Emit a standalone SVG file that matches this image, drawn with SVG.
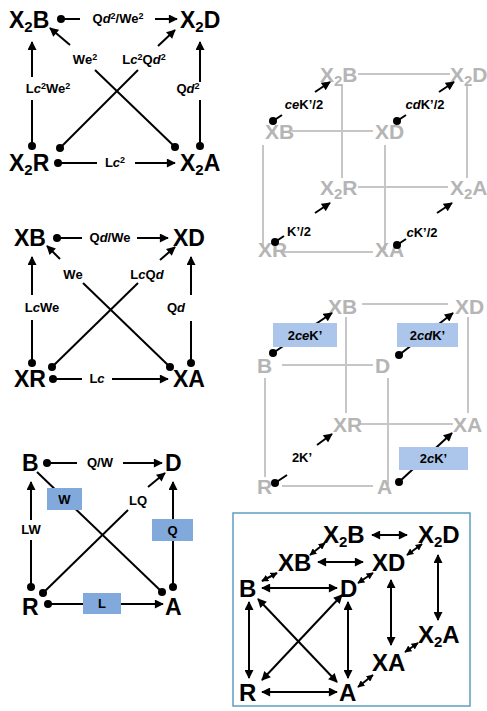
<svg xmlns="http://www.w3.org/2000/svg" width="487" height="711" viewBox="0 0 487 711">
<style>
text{font-family:"Liberation Sans",Arial,sans-serif;font-weight:bold}
.n{font-size:23px;fill:#000}
.n6{font-size:24px;fill:#000}
.g{font-size:21px;fill:#b5b5b5}
.s{font-size:15px}
.l{font-size:13px;fill:#000;text-anchor:middle}
.sup{font-size:9px}
.i{font-style:italic}
.c{stroke:#000;stroke-width:2;fill:none}
.gl{stroke:#c6c6c6;stroke-width:2;fill:none}
.a{marker-end:url(#ah)}
.d{marker-start:url(#dot)}
.aa{marker-start:url(#ah);marker-end:url(#ah)}
.as{marker-start:url(#ahs);marker-end:url(#ahs)}
.bx{fill:#82a9dc}
.bl{fill:#abc6ea}
</style>
<defs>
<marker id="ah" viewBox="0 0 10 10" refX="9" refY="5" markerWidth="10" markerHeight="9" markerUnits="userSpaceOnUse" orient="auto-start-reverse"><path d="M0,0 L10,5 L0,10 z" fill="#000"/></marker>
<marker id="ahs" viewBox="0 0 10 10" refX="9" refY="5" markerWidth="7" markerHeight="7" markerUnits="userSpaceOnUse" orient="auto-start-reverse"><path d="M0,0 L10,5 L0,10 z" fill="#000"/></marker>
<marker id="dot" viewBox="0 0 10 10" refX="5" refY="5" markerWidth="8" markerHeight="8" markerUnits="userSpaceOnUse"><circle cx="5" cy="5" r="5" fill="#000"/></marker>
</defs>
<rect width="487" height="711" fill="#fff"/>

<!-- Panel 1 -->
<g id="p1-X2B"><text class="n" x="9" y="28">X<tspan class="s" dy="4">2</tspan><tspan dy="-4">B</tspan></text></g>
<g id="p1-X2D"><text class="n" x="180" y="28">X<tspan class="s" dy="4">2</tspan><tspan dy="-4">D</tspan></text></g>
<g id="p1-X2R"><text class="n" x="9" y="171">X<tspan class="s" dy="4">2</tspan><tspan dy="-4">R</tspan></text></g>
<g id="p1-X2A"><text class="n" x="180" y="171">X<tspan class="s" dy="4">2</tspan><tspan dy="-4">A</tspan></text></g>
<g id="p1-connectors">
<line class="c d" x1="61" y1="19" x2="80" y2="19"/>
<line class="c a" x1="155" y1="19" x2="177" y2="19"/>
<text class="l" x="118" y="23">Q<tspan class="i">d</tspan><tspan class="sup" dy="-4">2</tspan><tspan dy="4">/We</tspan><tspan class="sup" dy="-4">2</tspan></text>
<line class="c a" x1="32" y1="77" x2="32" y2="42"/>
<line class="c d" x1="32" y1="146" x2="32" y2="100"/>
<text class="l" x="48" y="93">L<tspan class="i">c</tspan><tspan class="sup" dy="-4">2</tspan><tspan dy="4">We</tspan><tspan class="sup" dy="-4">2</tspan></text>
<line class="c d" x1="58" y1="163" x2="97" y2="163"/>
<line class="c a" x1="135" y1="163" x2="175" y2="163"/>
<text class="l" x="115" y="167">L<tspan class="i">c</tspan><tspan class="sup" dy="-4">2</tspan></text>
<line class="c d" x1="200" y1="146" x2="200" y2="100"/>
<line class="c a" x1="200" y1="82" x2="200" y2="42"/>
<text class="l" x="188" y="93">Q<tspan class="i">d</tspan><tspan class="sup" dy="-4">2</tspan></text>
<line class="c d" x1="60" y1="148" x2="138" y2="70"/>
<line class="c a" x1="158" y1="46" x2="175" y2="30"/>
<text class="l" x="144" y="64">L<tspan class="i">c</tspan><tspan class="sup" dy="-4">2</tspan><tspan dy="4">Q</tspan><tspan class="i">d</tspan><tspan class="sup" dy="-4">2</tspan></text>
<line class="c d" x1="175" y1="147" x2="95" y2="70"/>
<line class="c a" x1="70" y1="45" x2="50" y2="28"/>
<text class="l" x="85" y="64">We<tspan class="sup" dy="-4">2</tspan></text>
</g>

<!-- Panel 2 -->
<g id="p2-XB"><text class="n" x="14" y="246">XB</text></g>
<g id="p2-XD"><text class="n" x="173" y="246">XD</text></g>
<g id="p2-XR"><text class="n" x="14" y="387">XR</text></g>
<g id="p2-XA"><text class="n" x="173" y="387">XA</text></g>
<g id="p2-connectors">
<line class="c d" x1="57" y1="238" x2="82" y2="238"/>
<line class="c a" x1="137" y1="238" x2="168" y2="238"/>
<text class="l" x="110" y="242">Q<tspan class="i">d</tspan>/We</text>
<line class="c a" x1="32" y1="295" x2="32" y2="257"/>
<line class="c d" x1="32" y1="363" x2="32" y2="320"/>
<text class="l" x="42" y="312">L<tspan class="i">c</tspan>We</text>
<line class="c d" x1="53" y1="379" x2="82" y2="379"/>
<line class="c a" x1="112" y1="379" x2="168" y2="379"/>
<text class="l" x="97" y="383">L<tspan class="i">c</tspan></text>
<line class="c d" x1="191" y1="363" x2="191" y2="321"/>
<line class="c a" x1="191" y1="295" x2="191" y2="257"/>
<text class="l" x="176" y="312">Q<tspan class="i">d</tspan></text>
<line class="c d" x1="52" y1="367" x2="138" y2="283"/>
<line class="c a" x1="160" y1="260" x2="175" y2="247"/>
<text class="l" x="147" y="279">L<tspan class="i">c</tspan>Q<tspan class="i">d</tspan></text>
<line class="c d" x1="170" y1="367" x2="83" y2="283"/>
<line class="c a" x1="60" y1="259" x2="47" y2="246"/>
<text class="l" x="73" y="279">We</text>
</g>

<!-- Panel 3 -->
<g id="p3-B"><text class="n" x="22" y="471">B</text></g>
<g id="p3-D"><text class="n" x="165" y="471">D</text></g>
<g id="p3-R"><text class="n" x="22" y="615">R</text></g>
<g id="p3-A"><text class="n" x="165" y="615">A</text></g>
<g id="p3-connectors">
<line class="c d" x1="47" y1="463" x2="77" y2="463"/>
<line class="c a" x1="123" y1="463" x2="162" y2="463"/>
<text class="l" x="100" y="467">Q/W</text>
<line class="c a" x1="31" y1="520" x2="31" y2="482"/>
<line class="c d" x1="31" y1="587" x2="31" y2="540"/>
<text class="l" x="31" y="534">LW</text>
<line class="c d" x1="162" y1="592" x2="37" y2="472"/>
<rect class="bx" x="47" y="488" width="35" height="22"/>
<text class="l" x="64.5" y="504">W</text>
<line class="c d" x1="43" y1="593" x2="128" y2="510"/>
<line class="c a" x1="148" y1="487" x2="165" y2="473"/>
<text class="l" x="138" y="505">LQ</text>
<line class="c d a" x1="173" y1="587" x2="173" y2="482"/>
<rect class="bx" x="152" y="519" width="41" height="22"/>
<text class="l" x="172.5" y="535">Q</text>
<line class="c d a" x1="48" y1="604" x2="163" y2="604"/>
<rect class="bx" x="83" y="593" width="38" height="21"/>
<text class="l" x="102" y="608">L</text>
</g>

<!-- Panel 4 (gray cube) -->
<g id="p4-lines">
<line class="gl" x1="358" y1="74" x2="450" y2="74"/>
<line class="gl" x1="292" y1="131" x2="373" y2="131"/>
<line class="gl" x1="358" y1="187" x2="448" y2="187"/>
<line class="gl" x1="282" y1="252" x2="373" y2="252"/>
<line class="gl" x1="342" y1="84" x2="342" y2="178"/>
<line class="gl" x1="467" y1="84" x2="467" y2="178"/>
<line class="gl" x1="263" y1="145" x2="263" y2="248"/>
<line class="gl" x1="385" y1="145" x2="385" y2="250"/>
</g>
<g id="p4-X2B"><text class="g" x="320" y="82">X<tspan class="s" dy="4">2</tspan><tspan dy="-4">B</tspan></text></g>
<g id="p4-X2D"><text class="g" x="450" y="82">X<tspan class="s" dy="4">2</tspan><tspan dy="-4">D</tspan></text></g>
<g id="p4-XB"><text class="g" x="265" y="139">XB</text></g>
<g id="p4-XD"><text class="g" x="375" y="139">XD</text></g>
<g id="p4-X2R"><text class="g" x="320" y="195">X<tspan class="s" dy="4">2</tspan><tspan dy="-4">R</tspan></text></g>
<g id="p4-X2A"><text class="g" x="450" y="195">X<tspan class="s" dy="4">2</tspan><tspan dy="-4">A</tspan></text></g>
<g id="p4-XR"><text class="g" x="258" y="257">XR</text></g>
<g id="p4-XA"><text class="g" x="375" y="257">XA</text></g>
<g id="p4-connectors">
<line class="c d" x1="273" y1="121" x2="282" y2="115"/>
<line class="c a" x1="315" y1="92" x2="330" y2="82"/>
<text class="l" x="304" y="109"><tspan class="i">ce</tspan>K’/2</text>
<line class="c d" x1="397" y1="121" x2="406" y2="115"/>
<line class="c a" x1="439" y1="92" x2="454" y2="82"/>
<text class="l" x="425" y="109"><tspan class="i">cd</tspan>K’/2</text>
<line class="c d" x1="275" y1="242" x2="284" y2="236"/>
<line class="c a" x1="315" y1="213" x2="330" y2="203"/>
<text class="l" x="299" y="236">K’/2</text>
<line class="c d" x1="397" y1="245" x2="406" y2="239"/>
<line class="c a" x1="437" y1="213" x2="452" y2="203"/>
<text class="l" x="422" y="237"><tspan class="i">c</tspan>K’/2</text>
</g>

<!-- Panel 5 (gray cube) -->
<g id="p5-lines">
<line class="gl" x1="362" y1="304" x2="448" y2="304"/>
<line class="gl" x1="282" y1="365" x2="373" y2="365"/>
<line class="gl" x1="360" y1="424" x2="453" y2="424"/>
<line class="gl" x1="282" y1="486" x2="373" y2="486"/>
<line class="gl" x1="346" y1="317" x2="346" y2="413"/>
<line class="gl" x1="468" y1="317" x2="468" y2="413"/>
<line class="gl" x1="265" y1="378" x2="265" y2="477"/>
<line class="gl" x1="388" y1="378" x2="388" y2="485"/>
</g>
<g id="p5-XB"><text class="g" x="328" y="314">XB</text></g>
<g id="p5-XD"><text class="g" x="455" y="314">XD</text></g>
<g id="p5-B"><text class="g" x="257" y="373">B</text></g>
<g id="p5-D"><text class="g" x="375" y="373">D</text></g>
<g id="p5-XR"><text class="g" x="333" y="432">XR</text></g>
<g id="p5-XA"><text class="g" x="453" y="432">XA</text></g>
<g id="p5-R"><text class="g" x="257" y="494">R</text></g>
<g id="p5-A"><text class="g" x="377" y="494">A</text></g>
<g id="p5-connectors">
<line class="c d a" x1="273" y1="353" x2="332" y2="313"/>
<rect class="bl" x="273" y="323" width="64" height="24"/>
<text class="l" x="305" y="340">2<tspan class="i">ce</tspan>K’</text>
<line class="c d a" x1="399" y1="355" x2="453" y2="313"/>
<rect class="bl" x="397" y="323" width="61" height="24"/>
<text class="l" x="427.5" y="340">2<tspan class="i">cd</tspan>K’</text>
<line class="c d" x1="275" y1="483" x2="287" y2="475"/>
<line class="c a" x1="317" y1="445" x2="332" y2="434"/>
<text class="l" x="302" y="462">2K’</text>
<line class="c d a" x1="399" y1="482" x2="452" y2="433"/>
<rect class="bl" x="399" y="447" width="69" height="23"/>
<text class="l" x="433.5" y="463">2<tspan class="i">c</tspan>K’</text>
</g>

<!-- Panel 6 (framed) -->
<rect x="233" y="513" width="237" height="193" fill="#fff" stroke="#5e9fc0" stroke-width="1.5"/>
<g id="p6-X2B"><text class="n6" x="323" y="543">X<tspan class="s" dy="4">2</tspan><tspan dy="-4">B</tspan></text></g>
<g id="p6-X2D"><text class="n6" x="418" y="543">X<tspan class="s" dy="4">2</tspan><tspan dy="-4">D</tspan></text></g>
<g id="p6-XB"><text class="n6" x="278" y="571">XB</text></g>
<g id="p6-XD"><text class="n6" x="372" y="571">XD</text></g>
<g id="p6-B"><text class="n6" x="239" y="597">B</text></g>
<g id="p6-D"><text class="n6" x="340" y="597">D</text></g>
<g id="p6-X2A"><text class="n6" x="418" y="643">X<tspan class="s" dy="4">2</tspan><tspan dy="-4">A</tspan></text></g>
<g id="p6-XA"><text class="n6" x="372" y="671">XA</text></g>
<g id="p6-R"><text class="n6" x="239" y="701">R</text></g>
<g id="p6-A"><text class="n6" x="339" y="701">A</text></g>
<g id="p6-connectors">
<line class="c aa" x1="372" y1="535" x2="407" y2="535"/>
<line class="c aa" x1="318" y1="562" x2="363" y2="562"/>
<line class="c aa" x1="262" y1="588" x2="337" y2="588"/>
<line class="c aa" x1="262" y1="692" x2="337" y2="692"/>
<line class="c aa" x1="249" y1="602" x2="249" y2="678"/>
<line class="c aa" x1="348" y1="602" x2="348" y2="678"/>
<line class="c aa" x1="258" y1="599" x2="337" y2="682"/>
<line class="c aa" x1="262" y1="680" x2="342" y2="595"/>
<line class="c aa" x1="391" y1="580" x2="391" y2="645"/>
<line class="c aa" x1="438" y1="555" x2="438" y2="620"/>
<line class="c as" x1="310" y1="555" x2="325" y2="543"/>
<line class="c as" x1="262" y1="581" x2="277" y2="573"/>
<line class="c as" x1="407" y1="555" x2="422" y2="544"/>
<line class="c as" x1="358" y1="583" x2="373" y2="573"/>
<line class="c as" x1="405" y1="652" x2="418" y2="643"/>
<line class="c as" x1="358" y1="687" x2="373" y2="675"/>
</g>
</svg>
